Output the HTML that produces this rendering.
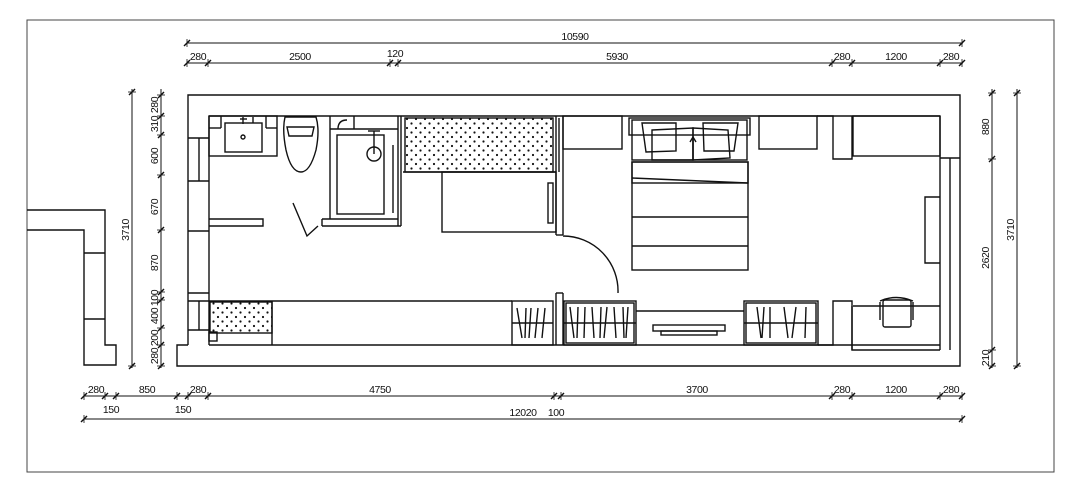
<!DOCTYPE html>
<html><head><meta charset="utf-8"><style>
html,body{margin:0;padding:0;background:#fff;}
svg{display:block;}
text{font-family:"Liberation Sans",sans-serif;font-size:10.5px;fill:#111;letter-spacing:-0.4px;}
</style></head><body>
<svg width="1080" height="488" viewBox="0 0 1080 488" xmlns="http://www.w3.org/2000/svg">
<defs>
<pattern id="dots" width="9" height="9" patternUnits="userSpaceOnUse">
<circle cx="2" cy="2" r="1.1" fill="#111"/><circle cx="6.5" cy="6.5" r="1.1" fill="#111"/>
</pattern>
<g id="th"><line x1="-3" y1="3" x2="3" y2="-3" stroke="#111" stroke-width="1.4"/><line x1="0" y1="-4" x2="0" y2="4" stroke="#111" stroke-width="0.8"/></g>
<g id="tv"><line x1="-3" y1="3" x2="3" y2="-3" stroke="#111" stroke-width="1.4"/><line x1="-4" y1="0" x2="4" y2="0" stroke="#111" stroke-width="0.8"/></g>
</defs>
<rect x="27" y="20" width="1027" height="452" fill="none" stroke="#444" stroke-width="1"/>
<g fill="none" stroke="#111" stroke-width="1.4">
<polyline points="27,210 105,210 105,345 116,345 116,365 84,365 84,230 27,230"/>
<line x1="84" y1="253" x2="105" y2="253"/><line x1="84" y1="319" x2="105" y2="319"/>
<polyline points="188,345 188,95 960,95 960,366 177,366 177,345 188,345"/>
<line x1="209" y1="116" x2="563" y2="116"/>
<line x1="563" y1="116" x2="940" y2="116"/>
<line x1="209" y1="116" x2="209" y2="345"/>
<line x1="209" y1="345" x2="940" y2="345"/>
<line x1="188" y1="138" x2="209" y2="138"/><line x1="188" y1="181" x2="209" y2="181"/><line x1="199" y1="138" x2="199" y2="181"/>
<line x1="188" y1="231" x2="209" y2="231"/><line x1="188" y1="293" x2="209" y2="293"/>
<line x1="188" y1="301" x2="209" y2="301"/><line x1="188" y1="330" x2="209" y2="330"/><line x1="199" y1="301" x2="199" y2="330"/>
<rect x="209" y="332" width="8" height="9"/>
<rect x="209" y="116" width="68" height="40"/>
<rect x="225" y="123" width="37" height="29"/>
<line x1="221" y1="116" x2="221" y2="128"/><line x1="221" y1="128" x2="209" y2="128"/>
<line x1="266" y1="116" x2="266" y2="128"/><line x1="266" y1="128" x2="277" y2="128"/>
<circle cx="243" cy="137" r="2"/>
<line x1="240" y1="119" x2="247" y2="119"/><line x1="243" y1="117" x2="243" y2="124"/><line x1="253" y1="117" x2="253" y2="123"/>
<path d="M285,117 L316,117 Q320,130 316,150 Q310,172 301,172 Q291,172 286,150 Q282,130 285,117 Z"/>
<path d="M287,127 L314,127 L312,136 L289,136 Z"/>
<line x1="330" y1="116" x2="330" y2="219"/>
<line x1="330" y1="129" x2="398" y2="129"/>
<line x1="354" y1="116" x2="354" y2="129"/>
<path d="M338,129 Q338,120 347,120"/>
<rect x="337" y="135" width="47" height="79"/>
<circle cx="374" cy="154" r="7"/>
<line x1="374" y1="131" x2="374" y2="154"/><line x1="368" y1="131" x2="380" y2="131"/>
<line x1="393" y1="145" x2="393" y2="213"/>
<line x1="398" y1="116" x2="398" y2="226"/><line x1="401" y1="116" x2="401" y2="226"/>
<line x1="322" y1="219" x2="398" y2="219"/><line x1="322" y1="219" x2="322" y2="226"/>
<line x1="322" y1="226" x2="401" y2="226"/>
<polyline points="209,219 263,219 263,226 209,226"/>
<polyline points="293,203 307,236 318,226"/>
<rect x="405" y="118" width="148" height="54" fill="url(#dots)"/>
<line x1="403" y1="172" x2="556" y2="172"/>
<rect x="442" y="172" width="114" height="60"/>
<line x1="556" y1="116" x2="556" y2="235"/><line x1="563" y1="116" x2="563" y2="235"/>
<line x1="556" y1="235" x2="563" y2="235"/>
<line x1="559" y1="118" x2="559" y2="172"/>
<rect x="548" y="183" width="5" height="40"/>
<path d="M563,236 A55,55 0 0 1 618,293"/>
<line x1="556" y1="293" x2="563" y2="293"/>
<line x1="556" y1="293" x2="556" y2="345"/><line x1="563" y1="293" x2="563" y2="345"/>
<line x1="209" y1="301" x2="512" y2="301"/>
<rect x="210" y="302" width="62" height="31" fill="url(#dots)"/>
<line x1="272" y1="301" x2="272" y2="345"/>
<rect x="512" y="301" width="41" height="44"/>
<line x1="512" y1="323" x2="553" y2="323"/>
<path d="M517,308 L522,338 M526,308 L525,338 M531,308 L529,338 M538,308 L535,338 M545,308 L542,338"/>
<rect x="564" y="301" width="72" height="44"/>
<rect x="566" y="303" width="68" height="40"/>
<line x1="564" y1="323" x2="636" y2="323"/>
<path d="M570,307 L574,338 M578,307 L577,338 M585,307 L584,338 M592,307 L594,338 M601,307 L600,338 M607,307 L604,338 M614,307 L616,338 M623,307 L624,338 M628,307 L626,338"/>
<line x1="636" y1="311" x2="744" y2="311"/>
<rect x="653" y="325" width="72" height="6"/>
<rect x="661" y="331" width="56" height="4"/>
<rect x="744" y="301" width="74" height="44"/>
<rect x="746" y="303" width="70" height="40"/>
<line x1="744" y1="323" x2="818" y2="323"/>
<path d="M757,307 L761,338 M764,307 L762,338 M770,307 L770,338 M784,307 L788,338 M796,307 L792,338 M806,307 L805,338"/>
<polyline points="818,345 833,345 833,301 852,301 852,350 940,350"/>
<polyline points="817,116 833,116 833,159 852,159 852,116"/>
<rect x="563" y="116" width="59" height="33"/>
<rect x="759" y="116" width="58" height="33"/>
<rect x="853" y="116" width="87" height="40"/>
<rect x="629" y="118" width="121" height="17"/>
<rect x="632" y="120" width="115" height="40"/>
<rect x="632" y="162" width="116" height="21"/>
<line x1="632" y1="178" x2="748" y2="183"/>
<rect x="632" y="162" width="116" height="108"/>
<line x1="632" y1="217" x2="748" y2="217"/>
<line x1="632" y1="246" x2="748" y2="246"/>
<path d="M642,123 L676,123 L676,151 L646,152 Z"/>
<path d="M703,123 L738,123 L734,151 L704,151 Z"/>
<path d="M652,130 L693,128 L693,160 L652,160 Z"/>
<path d="M693,128 L728,130 L730,158 L693,160 Z"/>
<line x1="693" y1="137" x2="693" y2="160"/>
<polyline points="690,142 693,137 696,142"/>
<line x1="940" y1="116" x2="940" y2="350"/>
<line x1="950" y1="158" x2="950" y2="350"/>
<line x1="940" y1="158" x2="960" y2="158"/>
<polyline points="940,197 925,197 925,263 940,263"/>
<line x1="853" y1="306" x2="940" y2="306"/>
<line x1="852" y1="306" x2="852" y2="350"/>
<rect x="883" y="300" width="28" height="27" rx="2"/>
<line x1="880" y1="302" x2="880" y2="320"/><line x1="913" y1="302" x2="913" y2="320"/>
<path d="M880,301 Q896,294 913,301"/>
</g>
<g stroke="#111" stroke-width="1" fill="none">
<line x1="187" y1="43" x2="963" y2="43"/>
<line x1="187" y1="63" x2="963" y2="63"/>
<line x1="84" y1="396" x2="963" y2="396"/>
<line x1="84" y1="419" x2="963" y2="419"/>
<line x1="132" y1="89" x2="132" y2="368"/>
<line x1="161" y1="89" x2="161" y2="368"/>
<line x1="992" y1="89" x2="992" y2="368"/>
<line x1="1017" y1="89" x2="1017" y2="368"/>
</g>
<g>
<use href="#th" x="187" y="43"/><use href="#th" x="962" y="43"/>
<use href="#th" x="187" y="63"/><use href="#th" x="208" y="63"/><use href="#th" x="390" y="63"/><use href="#th" x="398" y="63"/><use href="#th" x="832" y="63"/><use href="#th" x="852" y="63"/><use href="#th" x="940" y="63"/><use href="#th" x="962" y="63"/>
<use href="#th" x="84" y="396"/><use href="#th" x="105" y="396"/><use href="#th" x="116" y="396"/><use href="#th" x="177" y="396"/><use href="#th" x="188" y="396"/><use href="#th" x="208" y="396"/><use href="#th" x="554" y="396"/><use href="#th" x="561" y="396"/><use href="#th" x="832" y="396"/><use href="#th" x="852" y="396"/><use href="#th" x="940" y="396"/><use href="#th" x="962" y="396"/>
<use href="#th" x="84" y="419"/><use href="#th" x="962" y="419"/>
<use href="#tv" x="132" y="92"/><use href="#tv" x="132" y="366"/>
<use href="#tv" x="161" y="95"/><use href="#tv" x="161" y="116"/><use href="#tv" x="161" y="135"/><use href="#tv" x="161" y="175"/><use href="#tv" x="161" y="230"/><use href="#tv" x="161" y="292"/><use href="#tv" x="161" y="300"/><use href="#tv" x="161" y="328"/><use href="#tv" x="161" y="345"/><use href="#tv" x="161" y="366"/>
<use href="#tv" x="992" y="93"/><use href="#tv" x="992" y="159"/><use href="#tv" x="992" y="350"/><use href="#tv" x="992" y="366"/>
<use href="#tv" x="1017" y="93"/><use href="#tv" x="1017" y="366"/>
</g>
<g>
<text x="575" y="40" text-anchor="middle">10590</text>
<text x="198" y="60" text-anchor="middle">280</text>
<text x="300" y="60" text-anchor="middle">2500</text>
<text x="395" y="57" text-anchor="middle">120</text>
<text x="617" y="60" text-anchor="middle">5930</text>
<text x="842" y="60" text-anchor="middle">280</text>
<text x="896" y="60" text-anchor="middle">1200</text>
<text x="951" y="60" text-anchor="middle">280</text>
<text x="96" y="393" text-anchor="middle">280</text>
<text x="147" y="393" text-anchor="middle">850</text>
<text x="198" y="393" text-anchor="middle">280</text>
<text x="380" y="393" text-anchor="middle">4750</text>
<text x="697" y="393" text-anchor="middle">3700</text>
<text x="842" y="393" text-anchor="middle">280</text>
<text x="896" y="393" text-anchor="middle">1200</text>
<text x="951" y="393" text-anchor="middle">280</text>
<text x="111" y="413" text-anchor="middle">150</text>
<text x="183" y="413" text-anchor="middle">150</text>
<text x="523" y="416" text-anchor="middle">12020</text>
<text x="556" y="416" text-anchor="middle">100</text>
<text transform="translate(129,230) rotate(-90)" text-anchor="middle">3710</text>
<text transform="translate(158,105) rotate(-90)" text-anchor="middle">280</text>
<text transform="translate(158,124) rotate(-90)" text-anchor="middle">310</text>
<text transform="translate(158,156) rotate(-90)" text-anchor="middle">600</text>
<text transform="translate(158,207) rotate(-90)" text-anchor="middle">670</text>
<text transform="translate(158,263) rotate(-90)" text-anchor="middle">870</text>
<text transform="translate(158,298) rotate(-90)" text-anchor="middle">100</text>
<text transform="translate(158,316) rotate(-90)" text-anchor="middle">400</text>
<text transform="translate(158,338) rotate(-90)" text-anchor="middle">200</text>
<text transform="translate(158,356) rotate(-90)" text-anchor="middle">280</text>
<text transform="translate(989,127) rotate(-90)" text-anchor="middle">880</text>
<text transform="translate(989,258) rotate(-90)" text-anchor="middle">2620</text>
<text transform="translate(989,358) rotate(-90)" text-anchor="middle">210</text>
<text transform="translate(1014,230) rotate(-90)" text-anchor="middle">3710</text>
</g>
</svg>
</body></html>
